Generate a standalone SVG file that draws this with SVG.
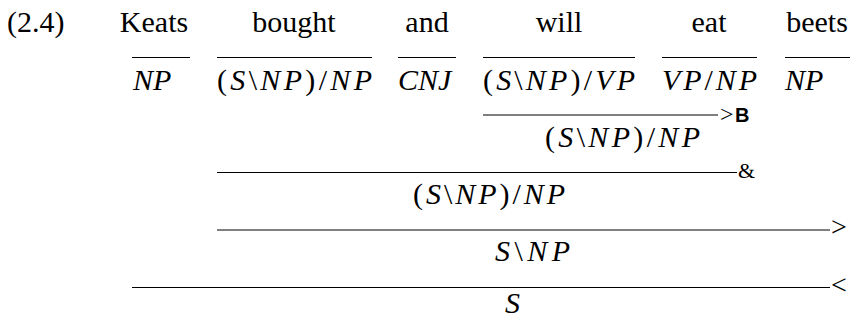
<svg xmlns="http://www.w3.org/2000/svg" width="851" height="320" viewBox="0 0 851 320">
<style>
.w{font-size:30px;fill:#000}
.c{font-size:30px;font-style:italic;fill:#000}
.u{font-style:normal}
.r{fill:#000}
.b{font-weight:bold;font-size:20px;fill:#000}
.ln line{stroke:#000;stroke-width:1}
</style>
<rect width="851" height="320" fill="#fff"/>
<g font-family="Liberation Serif, Times New Roman, Times, serif">
<g id="label"><text class="w" x="7" y="32">(2.4)</text></g>
<g id="n-keats">
<text class="w" x="154" y="32" text-anchor="middle">Keats</text>
<text class="c" x="133" y="90">NP</text>
</g>
<g id="n-bought">
<text class="w" x="294" y="32" text-anchor="middle">bought</text>
<text class="c" x="217" y="90" textLength="155" lengthAdjust="spacing"><tspan class="u">(</tspan>S<tspan class="u">\</tspan>NP<tspan class="u">)/</tspan>NP</text>
</g>
<g id="n-and">
<text class="w" x="427" y="32" text-anchor="middle">and</text>
<text class="c" x="398" y="90">CNJ</text>
</g>
<g id="n-will">
<text class="w" x="559" y="32" text-anchor="middle">will</text>
<text class="c" x="483" y="90" textLength="152" lengthAdjust="spacing"><tspan class="u">(</tspan>S<tspan class="u">\</tspan>NP<tspan class="u">)/</tspan>VP</text>
</g>
<g id="n-eat">
<text class="w" x="709" y="32" text-anchor="middle">eat</text>
<text class="c" x="662" y="90" textLength="95" lengthAdjust="spacing">VP<tspan class="u">/</tspan>NP</text>
</g>
<g id="n-beets">
<text class="w" x="817" y="32" text-anchor="middle">beets</text>
<text class="c" x="785" y="90">NP</text>
</g>
<g id="n-willeat">
<text class="c" x="545" y="147" textLength="155" lengthAdjust="spacing"><tspan class="u">(</tspan>S<tspan class="u">\</tspan>NP<tspan class="u">)/</tspan>NP</text>
</g>
<g id="n-coord">
<text class="c" x="413" y="204" textLength="152" lengthAdjust="spacing"><tspan class="u">(</tspan>S<tspan class="u">\</tspan>NP<tspan class="u">)/</tspan>NP</text>
</g>
<g id="n-vp">
<text class="c" x="495" y="261" textLength="75" lengthAdjust="spacing">S<tspan class="u">\</tspan>NP</text>
</g>
<g id="n-s">
<text class="c" x="505" y="313">S</text>
</g>
<g id="connectors" class="ln">
<line x1="132" y1="57.5" x2="190" y2="57.5"/>
<line x1="217" y1="57.5" x2="372" y2="57.5"/>
<line x1="398" y1="57.5" x2="456" y2="57.5"/>
<line x1="483" y1="57.5" x2="635" y2="57.5"/>
<line x1="662" y1="57.5" x2="757" y2="57.5"/>
<line x1="785" y1="57.5" x2="850" y2="57.5"/>
<line x1="483" y1="115" x2="718" y2="115"/>
<text class="r" x="720" y="122" font-size="24">&gt;</text>
<text class="b" x="735" y="122" font-family="Liberation Sans, Arial, sans-serif">B</text>
<line x1="217" y1="172.5" x2="737" y2="172.5"/>
<text class="r" x="738" y="178" font-size="22">&amp;</text>
<line x1="217" y1="230" x2="830" y2="230"/>
<text class="r" x="831" y="236" font-size="28">&gt;</text>
<line x1="132" y1="287.5" x2="830" y2="287.5"/>
<text class="r" x="831" y="294" font-size="28">&lt;</text>
</g>
</g>
</svg>
